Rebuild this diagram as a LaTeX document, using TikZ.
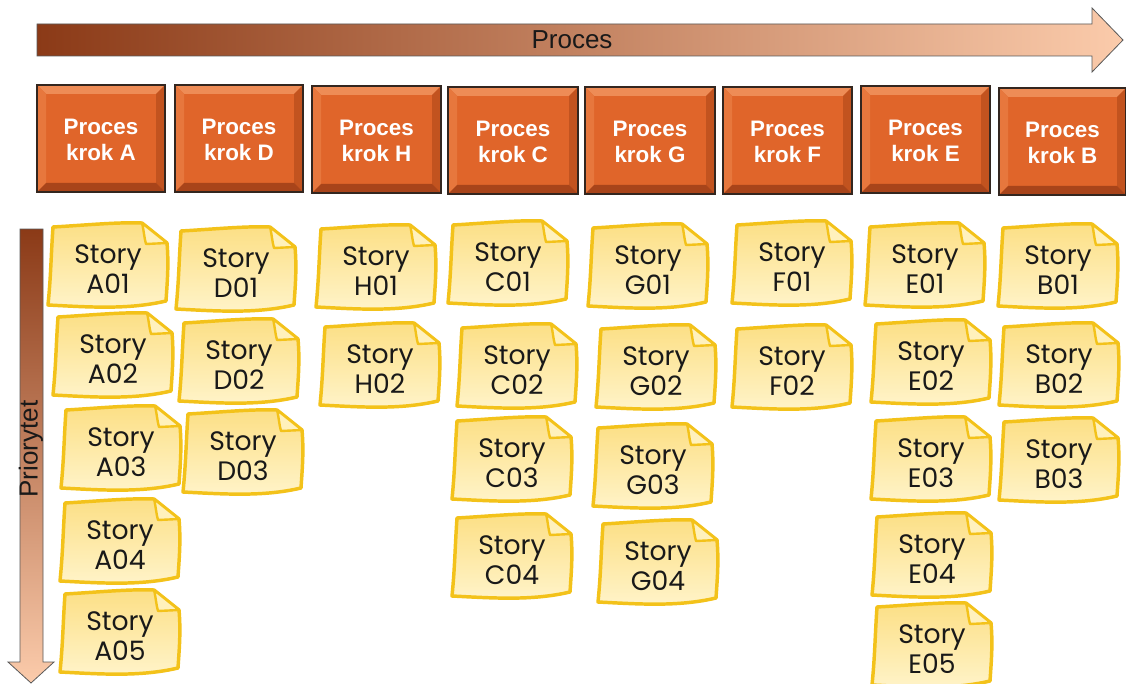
\documentclass[tikz,border=0pt]{standalone}
\usepackage{fontspec}
\setmainfont{Liberation Sans}
\newfontfamily\notefont{Poppins}
\definecolor{arrdark}{HTML}{8B3A17}
\definecolor{arrmid}{HTML}{D4987A}
\definecolor{arrlight}{HTML}{FBCBAB}
\definecolor{procmidc}{HTML}{E0652A}
\definecolor{proctopc}{HTML}{EE8C56}
\definecolor{procleftc}{HTML}{E7773D}
\definecolor{procrightc}{HTML}{C2531F}
\definecolor{procbotc}{HTML}{A8441A}
\definecolor{procedgec}{HTML}{33261F}
\definecolor{noteedge}{HTML}{F3C21A}
\definecolor{notetop}{HTML}{FCDF85}
\definecolor{notebot}{HTML}{FFF4CA}
\definecolor{noteflapc}{HTML}{FFF1BC}
\tikzset{
  arrowbody/.style={draw=black!65, line width=0.6pt},
  procedge/.style={draw=procedgec, line width=1.1pt},
  proctext/.style={font=\bfseries\fontsize{16.8}{19.5}\selectfont, align=center, text=white},
  notebody/.style={draw=noteedge, line width=2.6pt, line join=round,
                   top color=notetop, bottom color=notebot},
  noteflap/.style={draw=noteedge, line width=1.8pt, line join=round, fill=noteflapc},
  notetext/.style={font=\notefont\fontsize{20}{22.5}\selectfont, align=center,
                   text=black!90, inner sep=0pt},
  axislabel/.style={font=\fontsize{19.5}{21}\selectfont, text=black!90}
}
% sticky note: name, centre x, centre y, label
\newcommand\storynote[4]{%
  \begin{scope}[shift={(#2,#3)}]
    \path[notebody] (-55,-38) .. controls (-20,-40) and (10,-43) .. (34,-42)
      -- (59,-22) .. controls (61,0) and (59,20) .. (58,36)
      .. controls (20,45) and (-20,42) .. (-60,40)
      .. controls (-57,10) and (-57,-10) .. (-55,-38) -- cycle;
    \path[noteflap] (34,-42) .. controls (36,-34) and (36,-28) .. (38,-21) -- (59,-22) -- cycle;
  \end{scope}
  \node[notetext] (#1) at (#2,#3+4) {Story\\#4};
}
% bevelled process step: name, x1, y1, x2, y2, letter
\newcommand\procbox[6]{%
  \fill[procmidc] (#2,#3) rectangle (#4,#5);
  \fill[proctopc] (#2,#3) -- (#4,#3) -- (#4-9,#3+9) -- (#2+9,#3+9) -- cycle;
  \fill[procleftc] (#2,#3) -- (#2+9,#3+9) -- (#2+9,#5-9) -- (#2,#5) -- cycle;
  \fill[procrightc] (#4,#3) -- (#4,#5) -- (#4-9,#5-9) -- (#4-9,#3+9) -- cycle;
  \fill[procbotc] (#2,#5) -- (#2+9,#5-9) -- (#4-9,#5-9) -- (#4,#5) -- cycle;
  \draw[procedge] (#2,#3) rectangle (#4,#5);
  \node[proctext] (#1) at ({(#2+#4)/2},{(#3+#5)/2+1}) {Proces\\krok #6};
}
\begin{document}
\begin{tikzpicture}[x=0.75pt,y=-0.75pt]
\useasboundingbox (0,0) rectangle (1126,684);
\fill[white] (0,0) rectangle (1126,684);

% process direction arrow
\path[arrowbody, left color=arrdark, middle color=arrmid, right color=arrlight]
  (37,24) -- (1092,24) -- (1092,8) -- (1123,40) -- (1092,72) -- (1092,56) -- (37,56) -- cycle;
\node[axislabel] (proclabel) at (572,40) {Proces};

% priority arrow
\path[arrowbody, top color=arrdark, middle color=arrmid, bottom color=arrlight]
  (20,229) -- (43,229) -- (43,662) -- (54,662) -- (31,683) -- (8,662) -- (20,662) -- cycle;
\node[axislabel, rotate=90] (priolabel) at (31,449) {Priorytet};

% process steps
\procbox{pA}{37}{85}{165}{192}{A}
\procbox{pD}{175}{85}{303}{192}{D}
\procbox{pH}{312}{86}{441}{193}{H}
\procbox{pC}{448}{87}{578}{194}{C}
\procbox{pG}{585}{87}{715}{194}{G}
\procbox{pF}{723}{87}{852}{194}{F}
\procbox{pE}{861}{86}{990}{193}{E}
\procbox{pB}{999}{88}{1126}{195}{B}

% stories
\storynote{sA1}{108}{265}{A01}
\storynote{sA2}{113}{355}{A02}
\storynote{sA3}{121}{448}{A03}
\storynote{sA4}{120}{541}{A04}
\storynote{sA5}{120}{632}{A05}

\storynote{sD1}{236}{269}{D01}
\storynote{sD2}{239}{361}{D02}
\storynote{sD3}{243}{452}{D03}

\storynote{sH1}{376}{267}{H01}
\storynote{sH2}{380}{365}{H02}

\storynote{sC1}{508}{263}{C01}
\storynote{sC2}{517}{366}{C02}
\storynote{sC3}{512}{459}{C03}
\storynote{sC4}{512}{556}{C04}

\storynote{sG1}{648}{266}{G01}
\storynote{sG2}{656}{367}{G02}
\storynote{sG3}{653}{466}{G03}
\storynote{sG4}{658}{562}{G04}

\storynote{sF1}{792}{263}{F01}
\storynote{sF2}{792}{367}{F02}

\storynote{sE1}{925}{265}{E01}
\storynote{sE2}{931}{362}{E02}
\storynote{sE3}{931}{459}{E03}
\storynote{sE4}{932}{555}{E04}
\storynote{sE5}{932}{645}{E05}

\storynote{sB1}{1058}{266}{B01}
\storynote{sB2}{1059}{365}{B02}
\storynote{sB3}{1059}{460}{B03}
\end{tikzpicture}
\end{document}
